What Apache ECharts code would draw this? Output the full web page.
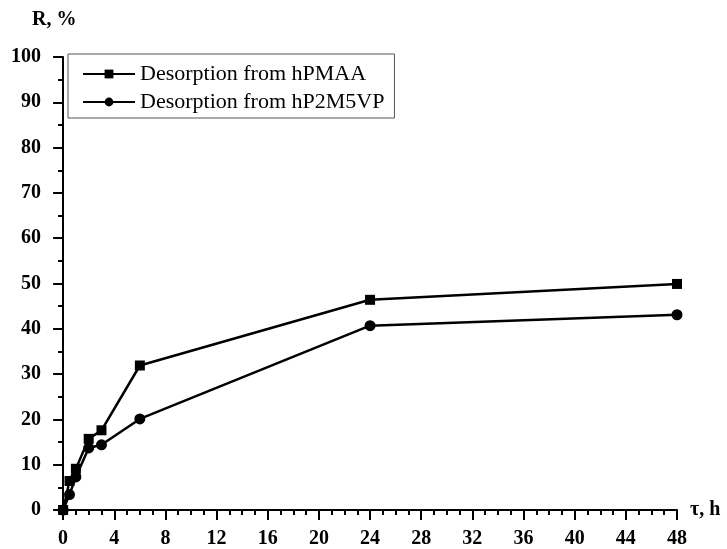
<!DOCTYPE html>
<html><head><meta charset="utf-8">
<script src="https://cdn.jsdelivr.net/npm/echarts@6/dist/echarts.min.js"></script>
<style>html,body{margin:0;padding:0;background:#fff}#c{width:727px;height:549px}</style>
</head><body><div id="c"></div>
<script>
const timeH = [0, 0.5, 1, 2, 3, 6, 24, 48];
const hPMAA = [0, 6.4, 9.1, 15.7, 17.6, 31.9, 46.4, 49.9];
const hP2M5VP = [0, 3.4, 7.3, 13.7, 14.4, 20.1, 40.7, 43.1];
const xMajorTicks = [0, 4, 8, 12, 16, 20, 24, 28, 32, 36, 40, 44, 48];
const xMinorTicks = [];
for (let i = 0; i <= 48; i++) if (i % 4 !== 0) xMinorTicks.push(i);
const seriesNames = ['Desorption from hPMAA', 'Desorption from hP2M5VP'];

const font = 'Liberation Serif';
const chart = echarts.init(document.getElementById('c'));
chart.setOption({
  animation: false,
  backgroundColor: '#fff',
  grid: {left: 58, right: 50, top: 57, bottom: 33},
  legend: {
    orient: 'vertical', left: 68, top: 54,
    padding: [9, 10, 5, 14], itemGap: 6,
    borderColor: '#555', borderWidth: 1,
    itemWidth: 52, itemHeight: 11,
    textStyle: {fontFamily: font, fontSize: 22, color: '#000'},
    data: seriesNames
  },
  xAxis: [{
    type: 'value', min: -0.4, max: 48,
    name: 'τ, h', nameLocation: 'end', nameGap: 13,
    nameTextStyle: {fontFamily: font, fontSize: 20, fontWeight: 'bold', color: '#000', verticalAlign: 'middle'},
    axisLine: {show: true, lineStyle: {color: '#000', width: 2}},
    axisTick: {show: true, length: 10, customValues: xMajorTicks, lineStyle: {color: '#000', width: 2}},
    axisLabel: {customValues: xMajorTicks, fontFamily: font, fontSize: 20, fontWeight: 'bold', color: '#000', margin: 19},
    splitLine: {show: false}
  }, {
    type: 'value', min: -0.4, max: 48, position: 'bottom',
    axisLine: {show: false},
    axisTick: {show: true, length: 5, customValues: xMinorTicks, lineStyle: {color: '#000', width: 2}},
    axisLabel: {show: false},
    splitLine: {show: false}
  }],
  yAxis: {
    type: 'value', min: 0, max: 100, interval: 10,
    axisLine: {show: true, lineStyle: {color: '#000', width: 2}},
    axisTick: {show: true, length: 10, lineStyle: {color: '#000', width: 2}},
    minorTick: {show: true, splitNumber: 2, length: 5, lineStyle: {color: '#000', width: 2}},
    axisLabel: {fontFamily: font, fontSize: 20, fontWeight: 'bold', color: '#000', margin: 17},
    splitLine: {show: false}
  },
  graphic: [{
    type: 'text', left: 32, top: 10,
    style: {text: 'R, %', fontFamily: font, fontSize: 20, fontWeight: 'bold', fill: '#000'}
  }],
  series: [{
    name: seriesNames[0], type: 'line',
    data: timeH.map((t, i) => [t, hPMAA[i]]),
    symbol: 'rect', symbolSize: 10,
    lineStyle: {color: '#000', width: 2.5},
    itemStyle: {color: '#000'}
  }, {
    name: seriesNames[1], type: 'line',
    data: timeH.map((t, i) => [t, hP2M5VP[i]]),
    symbol: 'circle', symbolSize: 11,
    lineStyle: {color: '#000', width: 2.5},
    itemStyle: {color: '#000'}
  }]
});
</script></body></html>
